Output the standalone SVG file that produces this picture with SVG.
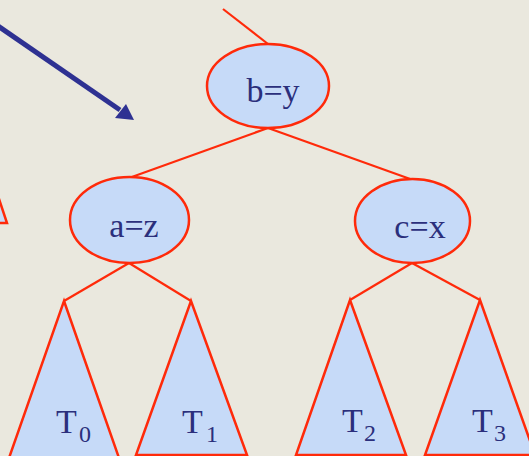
<svg xmlns="http://www.w3.org/2000/svg" width="529" height="456" viewBox="0 0 529 456">
<defs>
<style>
.node{fill:#C6DAF8;stroke:#FF2A0A;stroke-width:2.5}
.edge{stroke:#FF2A0A;stroke-width:2.2;fill:none}
.lbl{font-family:"Liberation Serif","Times New Roman",serif;font-size:34px;fill:#2B2F7C}
.sub{font-family:"Liberation Serif","Times New Roman",serif;font-size:24px;fill:#2B2F7C}
</style>
</defs>
<rect width="529" height="456" fill="#EAE8DE"/>
<g id="connectors">
<line class="edge" x1="223" y1="9" x2="268" y2="44"/>
<line class="edge" x1="268" y1="128" x2="129" y2="178"/>
<line class="edge" x1="268" y1="128" x2="413" y2="180"/>
<line class="edge" x1="129" y1="263" x2="64" y2="301"/>
<line class="edge" x1="129" y1="263" x2="191" y2="301"/>
<line class="edge" x1="412" y1="263" x2="350" y2="300"/>
<line class="edge" x1="412" y1="263" x2="480" y2="300"/>
<g id="pointer">
<line x1="-2" y1="26" x2="120" y2="110" stroke="#2E3192" stroke-width="5"/>
<polygon points="134,120 115,118 126,104" fill="#2E3192"/>
</g>
</g>
<g id="partial">
<polygon class="node" points="-12,166 7,223 -40,223"/>
</g>
<g id="b">
<ellipse class="node" cx="268" cy="86" rx="61" ry="42"/>
<text class="lbl" x="273" y="102" text-anchor="middle">b=y</text>
</g>
<g id="a">
<ellipse class="node" cx="129.5" cy="220" rx="59.5" ry="43"/>
<text class="lbl" x="134" y="237" text-anchor="middle">a=z</text>
</g>
<g id="c">
<ellipse class="node" cx="412.5" cy="221" rx="57.5" ry="42"/>
<text class="lbl" x="420" y="238" text-anchor="middle">c=x</text>
</g>
<g id="T0">
<polygon class="node" points="64,301 119,458 9,458"/>
<text class="lbl" x="56" y="433">T</text><text class="sub" x="79" y="442">0</text>
</g>
<g id="T1">
<polygon class="node" points="191,301 247,455 136,455"/>
<text class="lbl" x="182" y="433">T</text><text class="sub" x="206" y="442">1</text>
</g>
<g id="T2">
<polygon class="node" points="350,300 406,455 296,455"/>
<text class="lbl" x="342" y="432">T</text><text class="sub" x="364" y="441">2</text>
</g>
<g id="T3">
<polygon class="node" points="480,300 535,455 425,455"/>
<text class="lbl" x="472" y="432">T</text><text class="sub" x="494" y="441">3</text>
</g>
</svg>
